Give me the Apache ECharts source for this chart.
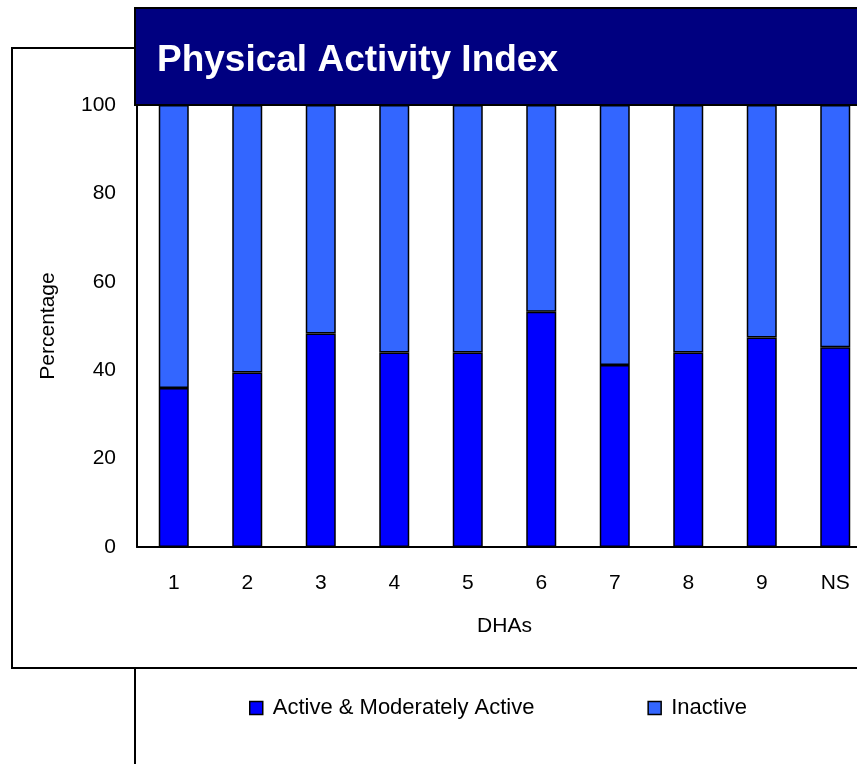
<!DOCTYPE html>
<html>
<head>
<meta charset="utf-8">
<script src="https://cdn.jsdelivr.net/npm/echarts@6/dist/echarts.min.js"></script>
<style>
  html, body { margin: 0; padding: 0; background: #fff; overflow: hidden; }
  /* plot runs past the right edge of the window, as in the source */
  #chart { width: 872px; height: 764px; }
</style>
</head>
<body>
<div id="chart"></div>
<script>
// DHA categories
const categories = ['1', '2', '3', '4', '5', '6', '7', '8', '9', 'NS']
// percentage active & moderately active per DHA
const activeValues = [36, 39.5, 48.3, 44, 44, 53.2, 41.2, 44, 47.4, 45.2]
// percentage inactive (remainder to 100)
const inactiveValues = [64, 60.5, 51.7, 56, 56, 46.8, 58.8, 56, 52.6, 54.8]
const yTicks = [0, 20, 40, 60, 80, 100]

const font = '"Liberation Sans", Arial, sans-serif'

const chart = echarts.init(document.getElementById('chart'))

const option = {
  animation: false,
  title: {
    text: 'Physical Activity Index',
    left: 157,
    top: 42,
    padding: 0,
    textStyle: {
      color: '#fff',
      fontFamily: font,
      fontWeight: 'bold',
      fontSize: 37
    },
    z: 10
  },
  graphic: [
    // outer frame
    {
      type: 'rect',
      z: 0,
      shape: { x: 12, y: 48, width: 880, height: 620 },
      style: { fill: '#fff', stroke: '#000', lineWidth: 2 }
    },
    // legend frame edge
    {
      type: 'line',
      z: 0,
      shape: { x1: 135, y1: 668, x2: 135, y2: 770 },
      style: { stroke: '#000', lineWidth: 2 }
    },
    // title banner
    {
      type: 'rect',
      z: 5,
      shape: { x: 135, y: 8, width: 760, height: 97 },
      style: { fill: '#000080', stroke: '#000', lineWidth: 2 }
    }
  ],
  legend: {
    left: 249,
    top: 697,
    padding: 0,
    itemWidth: 13,
    itemHeight: 13,
    itemGap: 113,
    icon: 'rect',
    itemStyle: { borderColor: '#000', borderWidth: 1.5 },
    textStyle: {
      fontFamily: font,
      fontSize: 22,
      color: '#000',
      padding: [0, 0, 0, 5]
    },
    data: ['Active & Moderately Active', 'Inactive']
  },
  grid: {
    left: 137,
    top: 105,
    right: 0,
    bottom: 217
  },
  xAxis: {
    type: 'category',
    data: categories,
    name: 'DHAs',
    nameLocation: 'middle',
    nameGap: 69,
    nameTextStyle: { fontFamily: font, fontSize: 21, color: '#000' },
    axisLine: { lineStyle: { color: '#000', width: 2 } },
    axisTick: { show: false },
    axisLabel: {
      margin: 26,
      fontFamily: font,
      fontSize: 21,
      color: '#000'
    }
  },
  yAxis: {
    type: 'value',
    min: yTicks[0],
    max: yTicks[yTicks.length - 1],
    interval: yTicks[1] - yTicks[0],
    name: 'Percentage',
    nameLocation: 'middle',
    nameGap: 78,
    nameTextStyle: { fontFamily: font, fontSize: 21, color: '#000' },
    axisLine: { show: true, lineStyle: { color: '#000', width: 2 } },
    axisTick: { show: false },
    splitLine: { show: false },
    axisLabel: {
      margin: 21,
      fontFamily: font,
      fontSize: 21,
      color: '#000'
    }
  },
  series: [
    {
      name: 'Active & Moderately Active',
      type: 'bar',
      stack: 'total',
      barWidth: 30,
      itemStyle: { color: '#0000ff', borderColor: '#000', borderWidth: 1.5 },
      data: activeValues
    },
    {
      name: 'Inactive',
      type: 'bar',
      stack: 'total',
      barWidth: 30,
      itemStyle: { color: '#3366ff', borderColor: '#000', borderWidth: 1.5 },
      data: inactiveValues
    }
  ]
}

chart.setOption(option)
</script>
</body>
</html>
